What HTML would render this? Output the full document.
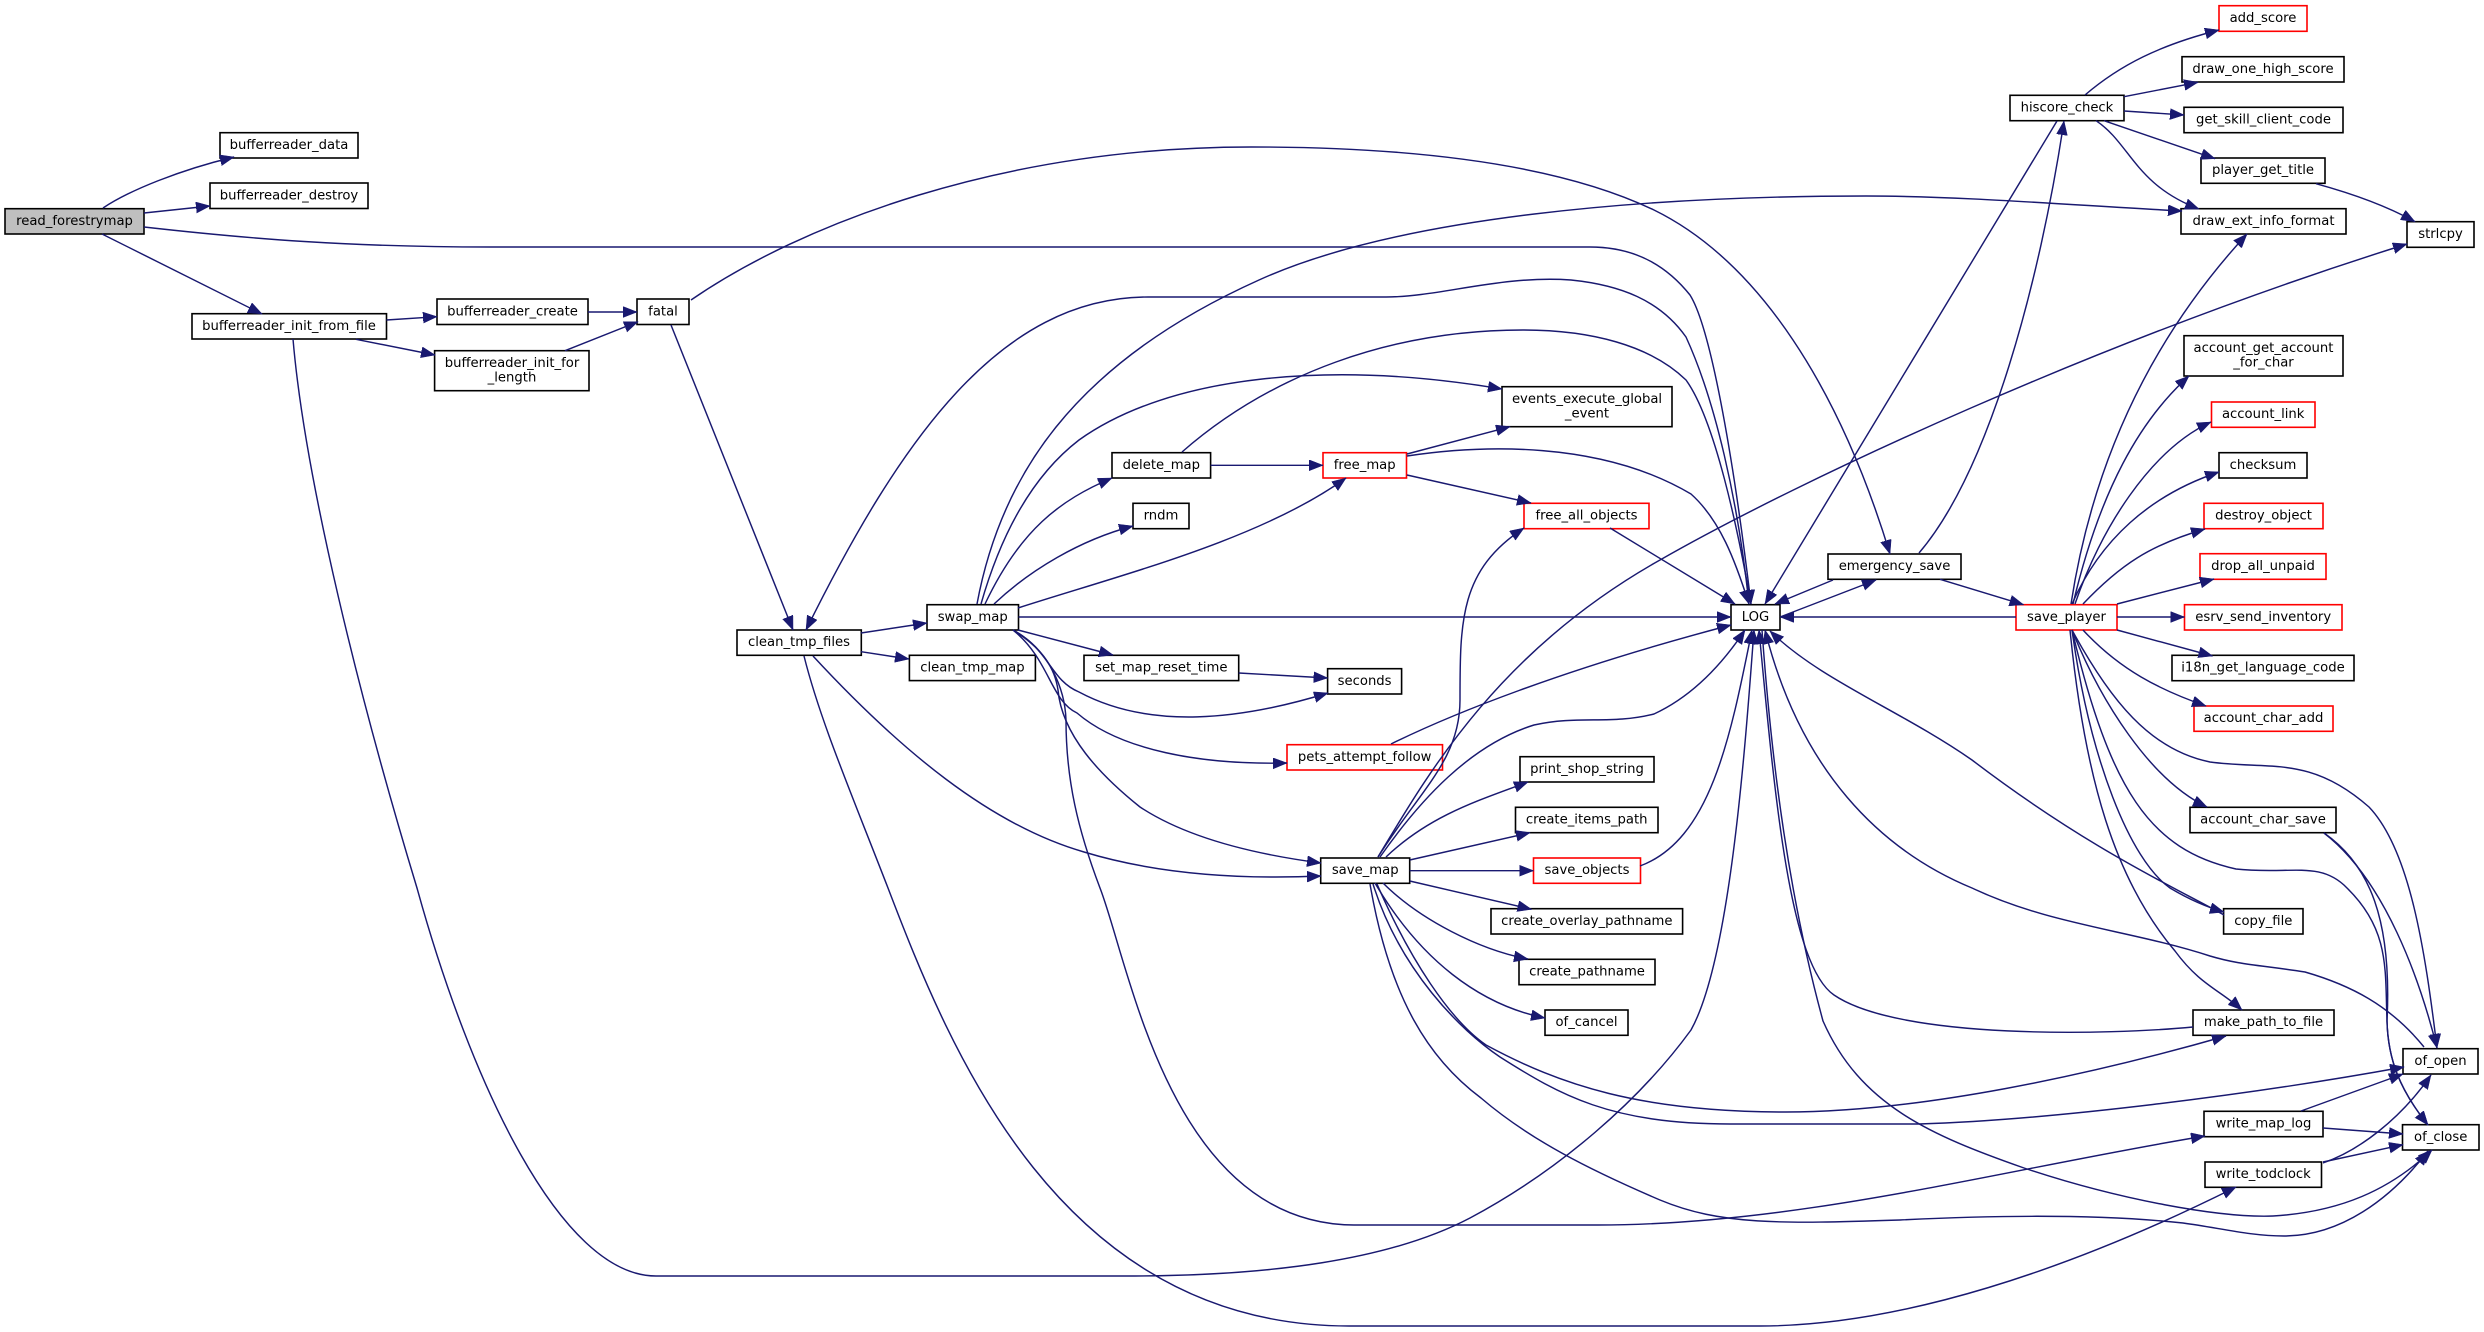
<!DOCTYPE html>
<html><head><meta charset="utf-8"><style>
html,body{margin:0;padding:0;background:#fff}
svg{display:block}
text{font-family:"DejaVu Sans",sans-serif;font-size:13.2px;text-anchor:middle;fill:#000}
.n rect{fill:#fff;stroke:#000;stroke-width:1.6}
.n rect.r{stroke:#f00}
.n rect.g{fill:#bfbfbf}
.e path{fill:none;stroke:#191970;stroke-width:1.45;marker-end:url(#a)}
</style></head><body>
<svg xmlns="http://www.w3.org/2000/svg" width="2484" height="1332" viewBox="0 0 2484 1332">
<defs><marker id="a" markerUnits="userSpaceOnUse" markerWidth="16" markerHeight="12" refX="14" refY="5.5" orient="auto"><path d="M0,0L14,5.5L0,11z" fill="#191970" stroke="#191970" stroke-width="0.5"/></marker></defs>
<g class="n">
<rect class="g" x="5" y="208.7" width="139" height="25.3"/><text x="74.5" y="225">read_forestrymap</text>
<rect x="220" y="132.7" width="138" height="25.3"/><text x="289" y="149">bufferreader_data</text>
<rect x="210" y="183" width="158" height="25.5"/><text x="289" y="199.5">bufferreader_destroy</text>
<rect x="192" y="313.7" width="194.5" height="25.3"/><text x="289" y="330">bufferreader_init_from_file</text>
<rect x="437" y="299" width="151" height="25.5"/><text x="512.5" y="315.5">bufferreader_create</text>
<rect x="434.6" y="350.7" width="154.4" height="40"/><text x="512" y="367">bufferreader_init_for</text><text x="512" y="381.5">_length</text>
<rect x="637" y="299" width="52" height="25.5"/><text x="663" y="315.5">fatal</text>
<rect x="737" y="630" width="124.3" height="25.3"/><text x="799" y="646">clean_tmp_files</text>
<rect x="927" y="604.7" width="91.5" height="25.3"/><text x="972.7" y="621">swap_map</text>
<rect x="909.4" y="655.3" width="126" height="25.3"/><text x="972.4" y="671.5">clean_tmp_map</text>
<rect x="1084" y="655.3" width="154.7" height="25.3"/><text x="1161.3" y="671.5">set_map_reset_time</text>
<rect x="1327.6" y="668.7" width="74" height="25.3"/><text x="1364.6" y="685">seconds</text>
<rect x="1112" y="452.7" width="98.6" height="25.3"/><text x="1161.3" y="469">delete_map</text>
<rect class="r" x="1323" y="452.7" width="83.5" height="25.3"/><text x="1364.7" y="469">free_map</text>
<rect x="1133" y="503.3" width="56" height="25.4"/><text x="1161" y="519.5">rndm</text>
<rect class="r" x="1524" y="503.3" width="125" height="25.4"/><text x="1586.5" y="519.5">free_all_objects</text>
<rect x="1502" y="386.7" width="170" height="40"/><text x="1587" y="403">events_execute_global</text><text x="1587" y="417.5">_event</text>
<rect class="r" x="1287" y="744.7" width="155.5" height="25.3"/><text x="1364.7" y="761">pets_attempt_follow</text>
<rect x="1520" y="756.7" width="134" height="25.3"/><text x="1587" y="773">print_shop_string</text>
<rect x="1515.5" y="807.3" width="142.5" height="25.4"/><text x="1586.7" y="823.5">create_items_path</text>
<rect x="1320.7" y="858" width="89" height="25.3"/><text x="1365.2" y="874">save_map</text>
<rect class="r" x="1533.5" y="858" width="107" height="25.3"/><text x="1587" y="874">save_objects</text>
<rect x="1491" y="908.7" width="191.6" height="25.3"/><text x="1586.8" y="925">create_overlay_pathname</text>
<rect x="1519" y="959.3" width="136" height="25.4"/><text x="1587" y="975.5">create_pathname</text>
<rect x="1545" y="1010" width="83" height="25.3"/><text x="1586.5" y="1026">of_cancel</text>
<rect x="1731" y="604.7" width="49" height="25.3"/><text x="1755.5" y="621">LOG</text>
<rect x="1828" y="554" width="133" height="25.3"/><text x="1894.5" y="570">emergency_save</text>
<rect class="r" x="2016" y="604.7" width="101" height="25.3"/><text x="2066.5" y="621">save_player</text>
<rect x="2010" y="95.3" width="114" height="25.4"/><text x="2067" y="111.5">hiscore_check</text>
<rect class="r" x="2219" y="5.7" width="88" height="25.6"/><text x="2263" y="22">add_score</text>
<rect x="2182" y="56.7" width="162" height="25.3"/><text x="2263" y="73">draw_one_high_score</text>
<rect x="2184" y="107.3" width="159" height="25.4"/><text x="2263.5" y="123.5">get_skill_client_code</text>
<rect x="2201" y="158" width="124" height="25.3"/><text x="2263" y="174">player_get_title</text>
<rect x="2181" y="208.7" width="165" height="25.3"/><text x="2263.5" y="225">draw_ext_info_format</text>
<rect x="2407" y="221.7" width="67" height="25.6"/><text x="2440.5" y="238">strlcpy</text>
<rect x="2184" y="335.7" width="159" height="40.3"/><text x="2263.5" y="352">account_get_account</text><text x="2263.5" y="366.5">_for_char</text>
<rect class="r" x="2211.5" y="402" width="103.5" height="25.3"/><text x="2263.2" y="418">account_link</text>
<rect x="2219" y="452.7" width="88" height="25.3"/><text x="2263" y="469">checksum</text>
<rect class="r" x="2204" y="503.3" width="119" height="25.4"/><text x="2263.5" y="519.5">destroy_object</text>
<rect class="r" x="2200" y="553.7" width="126" height="25.6"/><text x="2263" y="570">drop_all_unpaid</text>
<rect class="r" x="2184.5" y="604.7" width="157.5" height="25.3"/><text x="2263.2" y="621">esrv_send_inventory</text>
<rect x="2172" y="655.3" width="182" height="25.4"/><text x="2263" y="671.5">i18n_get_language_code</text>
<rect class="r" x="2194" y="706" width="139" height="25.3"/><text x="2263.5" y="722">account_char_add</text>
<rect x="2190" y="807.3" width="146" height="25.4"/><text x="2263" y="823.5">account_char_save</text>
<rect x="2223.6" y="908.7" width="79.4" height="25.3"/><text x="2263.3" y="925">copy_file</text>
<rect x="2193" y="1010" width="141" height="25.3"/><text x="2263.5" y="1026">make_path_to_file</text>
<rect x="2403" y="1048.7" width="75" height="25.3"/><text x="2440.5" y="1065">of_open</text>
<rect x="2204" y="1111.3" width="119" height="25.4"/><text x="2263.5" y="1127.5">write_map_log</text>
<rect x="2402.5" y="1124.7" width="76.5" height="25.3"/><text x="2440.7" y="1141">of_close</text>
<rect x="2205" y="1162" width="116.5" height="25.3"/><text x="2263.2" y="1178">write_todclock</text>
</g>
<g class="e">
<path d="M103,208C130,190 180,170 234,157"/>
<path d="M144,213L210,206"/>
<path d="M144,227C250,239 350,247 490,247L1590,247C1640,247 1670,270 1690,295C1712,330 1735,470 1751,604"/>
<path d="M102,234L262,314"/>
<path d="M386.5,320L437,316.7"/>
<path d="M356,339.3L435,355"/>
<path d="M588,312L637,312"/>
<path d="M565,350.7L638,321.7"/>
<path d="M293,339C305,480 360,700 417,888C470,1080 560,1276 656,1276L1126,1276C1270,1276 1390,1260 1470,1218C1560,1170 1640,1100 1691,1030C1730,960 1745,750 1754,630"/>
<path d="M671,325L793,630"/>
<path d="M1749,604C1738,500 1715,400 1686,337C1660,300 1620,285 1571,280C1500,275 1440,297 1386,297L1148,297C1000,297 900,440 806,630"/>
<path d="M691,300C800,225 1000,147 1251,147C1420,147 1560,165 1654,210C1760,262 1840,390 1890,554"/>
<path d="M977,604C1000,480 1070,365 1259,280C1400,216 1650,196 1866,196C1960,196 2070,205 2182,211"/>
<path d="M981,604C1005,520 1040,470 1079,440C1170,375 1330,360 1502,389"/>
<path d="M985,604C1020,530 1060,500 1112,478"/>
<path d="M994,604C1030,570 1080,540 1133,526"/>
<path d="M1018,608C1120,575 1260,540 1346,478"/>
<path d="M1182,452C1270,375 1390,330 1523,330C1590,330 1650,345 1686,380C1715,420 1738,530 1751,604"/>
<path d="M1210.6,465.3L1323,465.3"/>
<path d="M1407,456C1480,445 1600,440 1691,494C1720,520 1735,560 1749,604"/>
<path d="M1407,454L1510,426.7"/>
<path d="M1407,475L1531,503"/>
<path d="M1610,528L1735,604"/>
<path d="M1018.5,617L1731,617"/>
<path d="M2016,617L1780,617"/>
<path d="M2057,121L1765,604"/>
<path d="M1833,580L1775,604"/>
<path d="M1780,617L1876,580"/>
<path d="M1919,553C1990,470 2040,280 2064,121"/>
<path d="M1940,579.3L2023.5,604.7"/>
<path d="M2085,95C2120,65 2160,45 2219,30"/>
<path d="M2124,96.7L2198,82.3"/>
<path d="M2124,111L2184,115"/>
<path d="M2104,120.7L2215,158.7"/>
<path d="M2096,120.7C2130,143 2135,185 2199,209"/>
<path d="M2316,183.7C2350,193 2385,205 2415,221.7"/>
<path d="M1378,857C1430,770 1500,650 1660,560C1800,480 2100,340 2407,244"/>
<path d="M1378,857C1420,790 1460,760 1460,700C1460,620 1460,570 1524,528"/>
<path d="M1380,857C1420,800 1470,745 1534,725C1580,715 1610,725 1654,714C1695,695 1725,660 1745,630"/>
<path d="M1640,866C1710,840 1730,740 1752,630"/>
<path d="M1391,744C1450,715 1560,670 1731,625"/>
<path d="M1386,857C1430,815 1480,800 1528,782"/>
<path d="M1409.7,860L1530,832.7"/>
<path d="M1409.7,870.7L1533.5,870.7"/>
<path d="M1409.7,881L1531.5,909.3"/>
<path d="M1383,883C1420,920 1480,950 1528,959"/>
<path d="M1375,883C1420,960 1480,1005 1545,1018"/>
<path d="M1370,884C1390,1000 1430,1060 1481,1098C1530,1140 1590,1170 1660,1200C1720,1225 1780,1224 1900,1220C1980,1216 2090,1213 2183,1223C2220,1228 2250,1236 2284,1236C2340,1236 2390,1200 2428,1151"/>
<path d="M1373,884C1400,970 1460,1030 1500,1057C1560,1095 1610,1124 1730,1124L1919,1124C2050,1120 2250,1095 2404,1067"/>
<path d="M1377,884C1410,960 1450,1020 1486,1045C1560,1085 1640,1112 1786,1112C1920,1112 2090,1075 2226,1036"/>
<path d="M1018,630L1113,655"/>
<path d="M1238.7,673L1327.6,678"/>
<path d="M1013,630C1050,650 1050,680 1079,692C1150,730 1240,720 1328,693"/>
<path d="M1013,630C1050,660 1050,700 1077,713C1120,750 1200,765 1287,763"/>
<path d="M1013,630C1045,650 1055,670 1058,690C1062,735 1100,775 1140,807C1190,840 1260,855 1321,863"/>
<path d="M1013,630C1050,650 1065,690 1066,720C1066,780 1078,830 1100,888C1130,965 1170,1224 1354,1225L1598,1225C1800,1225 2000,1170 2205,1136"/>
<path d="M861,633L927,623"/>
<path d="M861,651.7L909,659"/>
<path d="M813,656C900,750 990,825 1084,852C1150,872 1230,880 1321,876"/>
<path d="M804,656C820,720 850,790 888,888C950,1050 1060,1326 1349,1326L1760,1326C1900,1326 2070,1270 2236,1187"/>
<path d="M2193,1027C2110,1035 1900,1040 1834,995C1790,965 1775,800 1759,630"/>
<path d="M1762,630C1772,770 1790,900 1823,1021C1860,1105 1930,1135 2024,1168C2120,1200 2220,1218 2273,1216C2340,1212 2390,1190 2432,1150"/>
<path d="M2424,1047C2390,1005 2350,985 2305,972C2260,965 2240,965 2210,956C2130,930 2050,925 1972,888C1880,850 1800,770 1765,630"/>
<path d="M2224,915C2180,890 2090,850 1972,760C1900,710 1820,680 1770,631"/>
<path d="M2071,604C2090,480 2140,350 2247,234"/>
<path d="M2073,604C2100,490 2140,420 2189,376"/>
<path d="M2075,604C2100,530 2150,450 2211,422"/>
<path d="M2072,604C2100,540 2150,495 2219,472"/>
<path d="M2083,604C2120,565 2150,545 2205,529"/>
<path d="M2117,604L2214,579"/>
<path d="M2117,617L2184.5,617"/>
<path d="M2117,630L2212.5,656"/>
<path d="M2083,630C2120,670 2160,690 2206,706"/>
<path d="M2072,630C2110,700 2150,750 2210,762C2270,770 2310,755 2369,807C2410,850 2425,950 2437,1048"/>
<path d="M2072,630C2100,700 2150,780 2207,807"/>
<path d="M2072,630C2110,790 2150,850 2236,869C2290,875 2320,860 2347,888C2390,930 2385,970 2387,1021C2388,1060 2400,1090 2428,1125"/>
<path d="M2072,630C2090,760 2130,860 2170,888C2190,900 2210,908 2224,912"/>
<path d="M2070,630C2085,780 2115,880 2175,951C2200,985 2220,990 2242,1010"/>
<path d="M2324,833C2385,880 2420,980 2437,1048"/>
<path d="M2324,833C2370,865 2392,920 2387,1021C2388,1060 2400,1090 2428,1125"/>
<path d="M2301,1111L2403,1074"/>
<path d="M2323,1128L2403,1134"/>
<path d="M2323,1162L2403,1144.7"/>
<path d="M2323,1163C2358,1151 2400,1120 2431,1075"/>
</g>
</svg>
</body></html>
